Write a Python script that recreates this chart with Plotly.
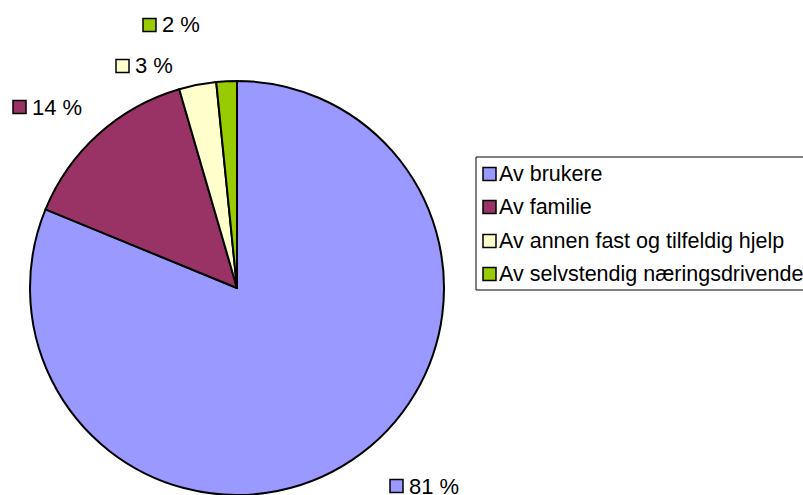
"""Pie chart: share of work done, by who performs it."""

import plotly.graph_objects as go

# data
labels = ["Av brukere", "Av familie", "Av annen fast og tilfeldig hjelp", "Av selvstendig næringsdrivende"]
values = [81.2, 14.3, 2.9, 1.6]
pct_text = ["81 %", "14 %", "3 %", "2 %"]
colors = ["#9999FF", "#993366", "#FFFFCC", "#99CC00"]

# layout helpers (pixels, measured from top-left)
W, H = 803, 495
label_pos = [(390, 486), (13, 107), (116, 66), (143, 25)]  # left edge of square, centre y
legend_rows = [174, 207, 241, 274]
FONT = "Liberation Sans, Arial, sans-serif"


def px(x):
    return x / W


def py(y):
    return 1 - y / H


fig = go.Figure()
fig.add_trace(
    go.Pie(
        labels=labels,
        values=values,
        sort=False,
        direction="clockwise",
        rotation=0,
        marker=dict(colors=colors, line=dict(color="black", width=2)),
        textinfo="none",
        hoverinfo="label+percent",
        showlegend=False,
        domain=dict(x=[px(30), px(444)], y=[0, py(81)]),
    )
)

shapes = []
annotations = []
sq = 13

# slice labels with colored key squares
for (x, y), txt, col in zip(label_pos, pct_text, colors):
    shapes.append(dict(
        type="rect", xref="paper", yref="paper",
        x0=px(x), x1=px(x + sq), y0=py(y - sq / 2), y1=py(y + sq / 2),
        fillcolor=col, line=dict(color="black", width=1.5),
    ))
    annotations.append(dict(
        text=txt, xref="paper", yref="paper", x=px(x + sq + 4), y=py(y),
        xanchor="left", yanchor="middle", showarrow=False,
        font=dict(family=FONT, size=22, color="black"),
    ))

# legend box
shapes.append(dict(
    type="rect", xref="paper", yref="paper",
    x0=px(476), x1=px(W + 10), y0=py(290), y1=py(157),
    fillcolor="white", line=dict(color="black", width=1), layer="below",
))
for y, lab, col in zip(legend_rows, labels, colors):
    shapes.append(dict(
        type="rect", xref="paper", yref="paper",
        x0=px(483), x1=px(483 + sq), y0=py(y - sq / 2), y1=py(y + sq / 2),
        fillcolor=col, line=dict(color="black", width=1.5),
    ))
    annotations.append(dict(
        text=lab, xref="paper", yref="paper", x=px(483 + sq + 1), y=py(y),
        xanchor="left", yanchor="middle", showarrow=False,
        font=dict(family=FONT, size=21.5, color="black"),
    ))

fig.update_layout(
    width=W,
    height=H,
    margin=dict(l=0, r=0, t=0, b=0),
    paper_bgcolor="white",
    plot_bgcolor="white",
    shapes=shapes,
    annotations=annotations,
)

fig.write_html(
    "out.html",
    config={"displayModeBar": False},
    post_script="document.body.style.margin='0';document.body.style.overflow='hidden';",
)
